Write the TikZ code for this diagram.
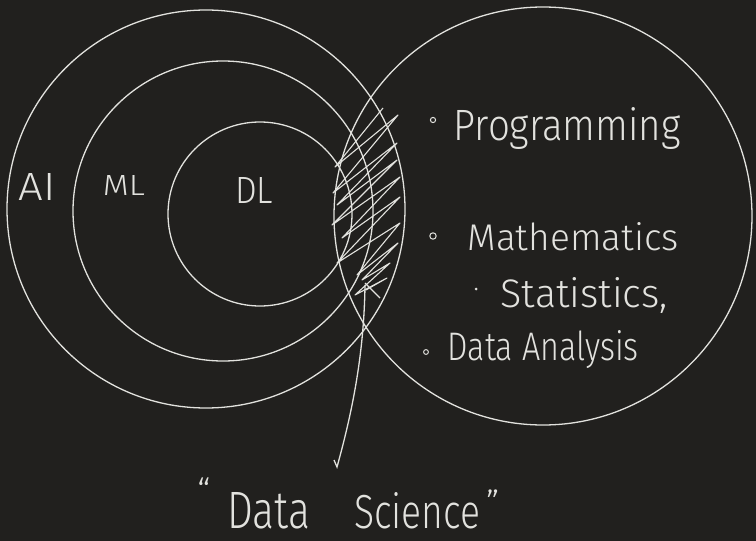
\documentclass[tikz,border=0pt]{standalone}
\usepackage{fontspec}
\usepackage{graphicx}
\newfontfamily\hand{Fira Sans Light}
\definecolor{board}{RGB}{33,32,30}
\definecolor{chalk}{RGB}{226,226,222}
\newcommand{\scribble}[3]{\resizebox{#1}{#2}{\hand #3}}

\begin{document}
\begin{tikzpicture}[x=1pt, y=-1pt, line width=1.3pt, draw=chalk,
    word/.style={inner sep=0pt, text=chalk},
    dot/.style={draw=chalk, line width=1pt}]
    % Board
    \fill[board] (0,0) rectangle (756,541);
    \useasboundingbox (0,0) rectangle (756,541);

    % Nested circles
    \coordinate (aic) at (206,209);
    \coordinate (mlc) at (223,211);
    \coordinate (dlc) at (260,214);
    \coordinate (scic) at (543,216);
    \draw (aic) circle [radius=199pt];
    \draw (mlc) circle [radius=150pt];
    \draw (dlc) circle [radius=92pt];
    \draw (scic) circle [radius=209pt];

    % Labels in the circles
    \node[word] (ailabel) at (37,187) {\scribble{37pt}{27pt}{AI}};
    \node[word] (mllabel) at (124,185) {\scribble{42pt}{20pt}{ML}};
    \node[word] (dllabel) at (254,190) {\scribble{38pt}{26pt}{DL}};

    % Hatched overlap
    \draw[line width=1.1pt, line join=round]
        (383,108) -- (335,167) -- (398,115) -- (333,193) -- (397,143)
        -- (337,205) -- (397,160) -- (332,225) -- (400,177) -- (342,238)
        -- (400,197) -- (337,263) -- (400,223) -- (357,275) -- (398,243)
        -- (362,280) -- (390,263) -- (355,295) -- (387,278) -- (366,290);
    \draw[line width=1.1pt] (365,283) -- (380,298);

    % Skills list
    \draw[dot] (433,120) circle [radius=2.6pt];
    \node[word, anchor=base west] (prog) at (453,140) {\scribble{227pt}{33pt}{Programming}};
    \draw[dot] (433,236) circle [radius=3.2pt];
    \node[word, anchor=base west] (math) at (467,250) {\scribble{211pt}{28pt}{Mathematics}};
    \fill[chalk] (476,289) circle [radius=1.5pt];
    \node[word, anchor=base west] (stats) at (500,307) {\scribble{167pt}{30pt}{Statistics,}};
    \draw[dot] (426,352) circle [radius=2.4pt];
    \node[word, anchor=base west] (analysis) at (447,360) {\scribble{191pt}{30pt}{Data Analysis}};

    % Caption and pointer
    \node[word, anchor=base west] (ds) at (197,528)
        {\raisebox{24pt}{\hand\fontsize{36}{36}\selectfont “}\hspace{16pt}%
         \scribble{83pt}{36pt}{Data}\hspace{44pt}\scribble{126pt}{36pt}{Science}%
         \hspace{6pt}\raisebox{12pt}{\hand\fontsize{36}{36}\selectfont ”}};
    \coordinate (pin) at (365,285);
    \coordinate (tail) at (337,467);
    \draw (pin) .. controls (364,360) and (350,420) .. (tail) -- ++(-3,-7);
\end{tikzpicture}
\end{document}
